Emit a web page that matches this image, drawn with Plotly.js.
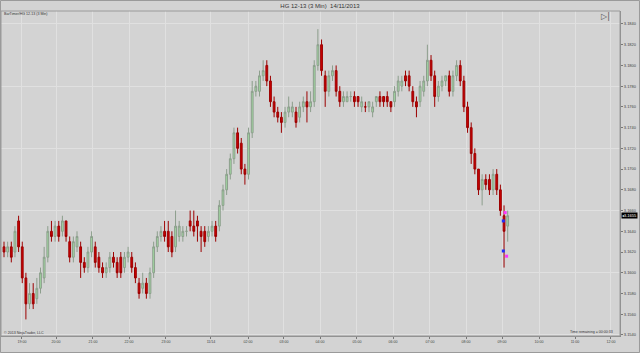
<!DOCTYPE html>
<html>
<head>
<meta charset="utf-8">
<script src="https://cdn.plot.ly/plotly-3.0.1.min.js"></script>
<style>
  html, body { margin: 0; padding: 0; background: #d3d3d3; }
  #chart { width: 640px; height: 353px; }
</style>
</head>
<body>
<div id="chart"></div>
<script>
// ---- Data (HG 12-13, 3 Min bars) ----
const openP = [
 3.1625,3.1620,3.1625,3.1620,3.1650,3.1625,3.1595,3.1570,3.1580,3.1575,
 3.1585,3.1595,3.1615,3.1640,3.1635,3.1645,3.1640,3.1650,3.1630,3.1615,
 3.1625,3.1625,3.1610,3.1605,3.1620,3.1625,3.1615,3.1605,3.1600,3.1605,
 3.1615,3.1610,3.1615,3.1605,3.1615,3.1615,3.1605,3.1590,3.1585,3.1590,
 3.1580,3.1600,3.1625,3.1635,3.1640,3.1640,3.1635,3.1625,3.1635,3.1635,
 3.1640,3.1650,3.1645,3.1650,3.1640,3.1640,3.1635,3.1640,3.1645,3.1645,
 3.1665,3.1680,3.1695,3.1710,3.1735,3.1725,3.1700,3.1695,3.1735,3.1775,
 3.1775,3.1790,3.1800,3.1785,3.1765,3.1755,3.1750,3.1745,3.1755,3.1755,
 3.1755,3.1750,3.1760,3.1765,3.1760,3.1765,3.1800,3.1820,3.1790,3.1775,
 3.1790,3.1795,3.1775,3.1765,3.1765,3.1770,3.1770,3.1770,3.1760,3.1760,
 3.1760,3.1755,3.1765,3.1770,3.1770,3.1770,3.1765,3.1765,3.1775,3.1780,
 3.1790,3.1790,3.1775,3.1765,3.1765,3.1775,3.1785,3.1805,3.1790,3.1770,
 3.1780,3.1785,3.1790,3.1775,3.1790,3.1800,3.1785,3.1760,3.1740,3.1715,
 3.1700,3.1680,3.1690,3.1690,3.1680,3.1695,3.1680,3.1655,3.1645
];
const highP = [
 3.1630,3.1630,3.1630,3.1645,3.1655,3.1630,3.1600,3.1590,3.1590,3.1595,
 3.1605,3.1625,3.1645,3.1650,3.1650,3.1650,3.1655,3.1650,3.1635,3.1635,
 3.1640,3.1630,3.1615,3.1625,3.1640,3.1630,3.1620,3.1610,3.1610,3.1620,
 3.1620,3.1615,3.1620,3.1620,3.1625,3.1620,3.1610,3.1595,3.1600,3.1595,
 3.1605,3.1630,3.1640,3.1645,3.1650,3.1650,3.1640,3.1660,3.1650,3.1645,
 3.1645,3.1660,3.1660,3.1655,3.1645,3.1645,3.1645,3.1650,3.1650,3.1670,
 3.1685,3.1700,3.1715,3.1740,3.1740,3.1730,3.1705,3.1740,3.1785,3.1785,
 3.1795,3.1805,3.1805,3.1790,3.1770,3.1760,3.1755,3.1760,3.1770,3.1765,
 3.1760,3.1765,3.1770,3.1775,3.1775,3.1805,3.1835,3.1825,3.1795,3.1795,
 3.1800,3.1800,3.1780,3.1775,3.1775,3.1775,3.1775,3.1770,3.1770,3.1765,
 3.1765,3.1765,3.1770,3.1775,3.1770,3.1775,3.1765,3.1780,3.1790,3.1790,
 3.1795,3.1795,3.1780,3.1770,3.1785,3.1790,3.1820,3.1810,3.1795,3.1785,
 3.1790,3.1790,3.1795,3.1795,3.1805,3.1805,3.1790,3.1765,3.1745,3.1720,
 3.1700,3.1695,3.1695,3.1695,3.1700,3.1700,3.1685,3.1665,3.1660
];
const lowP = [
 3.1615,3.1615,3.1610,3.1615,3.1620,3.1590,3.1555,3.1565,3.1565,3.1570,
 3.1580,3.1590,3.1610,3.1630,3.1630,3.1630,3.1635,3.1630,3.1610,3.1610,
 3.1620,3.1595,3.1600,3.1600,3.1615,3.1605,3.1600,3.1595,3.1595,3.1600,
 3.1605,3.1595,3.1595,3.1600,3.1610,3.1600,3.1590,3.1575,3.1580,3.1575,
 3.1575,3.1595,3.1620,3.1630,3.1630,3.1620,3.1615,3.1620,3.1630,3.1630,
 3.1635,3.1640,3.1635,3.1630,3.1620,3.1625,3.1630,3.1635,3.1630,3.1640,
 3.1660,3.1675,3.1690,3.1705,3.1715,3.1695,3.1685,3.1690,3.1730,3.1770,
 3.1770,3.1785,3.1780,3.1760,3.1750,3.1745,3.1735,3.1740,3.1750,3.1750,
 3.1740,3.1745,3.1755,3.1745,3.1755,3.1760,3.1795,3.1790,3.1760,3.1770,
 3.1785,3.1770,3.1760,3.1760,3.1765,3.1765,3.1760,3.1760,3.1755,3.1755,
 3.1755,3.1750,3.1760,3.1760,3.1760,3.1760,3.1755,3.1760,3.1770,3.1775,
 3.1780,3.1775,3.1760,3.1750,3.1760,3.1770,3.1780,3.1785,3.1760,3.1765,
 3.1775,3.1780,3.1770,3.1770,3.1785,3.1780,3.1755,3.1735,3.1705,3.1695,
 3.1675,3.1665,3.1680,3.1675,3.1675,3.1675,3.1655,3.1605,3.1630
];
const closeP = [
 3.1620,3.1625,3.1615,3.1640,3.1625,3.1595,3.1570,3.1580,3.1570,3.1585,
 3.1600,3.1615,3.1640,3.1635,3.1645,3.1635,3.1650,3.1635,3.1615,3.1630,
 3.1635,3.1610,3.1605,3.1620,3.1635,3.1610,3.1605,3.1600,3.1605,3.1615,
 3.1610,3.1600,3.1600,3.1615,3.1620,3.1605,3.1595,3.1580,3.1590,3.1580,
 3.1600,3.1625,3.1635,3.1640,3.1635,3.1625,3.1620,3.1645,3.1645,3.1640,
 3.1640,3.1645,3.1640,3.1645,3.1635,3.1630,3.1640,3.1645,3.1635,3.1665,
 3.1680,3.1695,3.1710,3.1735,3.1720,3.1700,3.1695,3.1735,3.1775,3.1780,
 3.1790,3.1795,3.1785,3.1765,3.1755,3.1750,3.1745,3.1755,3.1760,3.1760,
 3.1745,3.1760,3.1765,3.1760,3.1765,3.1800,3.1820,3.1795,3.1775,3.1790,
 3.1795,3.1775,3.1765,3.1770,3.1770,3.1770,3.1765,3.1765,3.1765,3.1760,
 3.1765,3.1760,3.1770,3.1765,3.1765,3.1765,3.1760,3.1775,3.1785,3.1785,
 3.1785,3.1780,3.1765,3.1760,3.1780,3.1785,3.1805,3.1790,3.1770,3.1780,
 3.1785,3.1790,3.1775,3.1790,3.1800,3.1785,3.1760,3.1740,3.1715,3.1700,
 3.1680,3.1690,3.1685,3.1680,3.1695,3.1680,3.1660,3.1640,3.1655
];
// Trade/indicator marks drawn on the last bars
const buyMarkX = [136.8, 136.8];
const buyMarkY = [3.1650, 3.1621];
const sellMarkX = [137.3, 137.7];
const sellMarkY = [3.1658, 3.1616];
// Axis labels
const timeLabels = ['19:00','20:00','21:00','22:00','23:00','11/14','02:00','03:00','04:00',
                    '05:00','06:00','07:00','08:00','09:00','10:00','11:00','12:00'];
const timeLabelBar = [4.93,14.25,24.38,34.25,44.38,56.71,66.85,76.71,86.58,
                      96.71,106.58,116.71,126.58,136.44,146.58,156.44,166.3];

const barIndex = openP.map((_, i) => i);
const lastClose = closeP[closeP.length - 1];

const FONT = 'Liberation Sans, Arial, sans-serif';
const GRID = '#e0e0e0';
const BG = '#d3d3d3';

const traces = [
  {
    type: 'candlestick',
    x: barIndex, open: openP, high: highP, low: lowP, close: closeP,
    whiskerwidth: 0,
    increasing: { line: { color: '#8c9e8c', width: 1 }, fillcolor: '#a2dba2' },
    decreasing: { line: { color: '#9c0000', width: 1 }, fillcolor: '#cc0000' },
    showlegend: false, hoverinfo: 'skip'
  },
  {
    type: 'scatter', mode: 'markers', x: buyMarkX, y: buyMarkY,
    marker: { symbol: 'square', size: 3, color: '#1f2fff' },
    showlegend: false, hoverinfo: 'skip'
  },
  {
    type: 'scatter', mode: 'markers', x: sellMarkX, y: sellMarkY,
    marker: { symbol: 'square', size: 3, color: '#ff33ff' },
    showlegend: false, hoverinfo: 'skip'
  },
  { type: 'scatter', x: [], y: [], yaxis: 'y2', showlegend: false, hoverinfo: 'skip' }
];

const yRange = [3.1539, 3.18525];

const layout = {
  width: 640, height: 353, autosize: false,
  margin: { l: 1, r: 20, t: 11, b: 17, pad: 0 },
  paper_bgcolor: BG, plot_bgcolor: BG,
  font: { family: FONT, color: '#444' },
  showlegend: false,
  title: {
    text: 'HG 12-13 (3 Min)  14/11/2013',
    font: { family: FONT, size: 6, color: '#333' },
    xref: 'container', yref: 'container', x: 0.5, y: 0.984,
    xanchor: 'center', yanchor: 'middle'
  },
  xaxis: {
    range: [-0.822, 168.77],
    tickmode: 'array', tickvals: timeLabelBar, ticktext: timeLabels,
    showgrid: true, gridcolor: GRID, gridwidth: 1,
    ticks: 'outside', ticklen: 2, tickcolor: '#777',
    tickfont: { family: FONT, size: 3.6, color: '#444' },
    showline: true, linecolor: '#8a8a8a', linewidth: 1,
    zeroline: false, rangeslider: { visible: false }, fixedrange: true
  },
  yaxis: {
    side: 'right', range: yRange,
    tickmode: 'linear', tick0: 3.154, dtick: 0.002, tickformat: '.4f',
    showgrid: false,
    ticks: 'outside', ticklen: 2, tickcolor: '#777',
    tickfont: { family: FONT, size: 4, color: '#444' },
    showline: true, linecolor: '#8a8a8a', linewidth: 1,
    zeroline: false, fixedrange: true
  },
  yaxis2: {
    overlaying: 'y', side: 'left', range: yRange,
    tickmode: 'linear', tick0: 3.154, dtick: 0.006,
    showgrid: true, gridcolor: GRID, gridwidth: 1,
    showticklabels: false, ticks: '', showline: false, zeroline: false, fixedrange: true
  },
  shapes: [
    { type: 'rect', xref: 'paper', yref: 'paper', x0: 0, x1: 1, y0: 0, y1: 1,
      line: { color: '#9a9a9a', width: 1 }, layer: 'above' },
    { type: 'rect', xref: 'paper', yref: 'paper', x0: -0.0008, x1: 1.0315, y0: -0.0508, y1: 1.0323,
      line: { color: '#9a9a9a', width: 1 }, layer: 'above' }
  ],
  annotations: [
    { xref: 'paper', yref: 'paper', x: 0.002, y: 0.991, xanchor: 'left', yanchor: 'middle',
      text: 'BarTimer/HG 12-13 (3 Min)', showarrow: false,
      font: { family: FONT, size: 3.6, color: '#333' } },
    { xref: 'paper', yref: 'paper', x: 0.002, y: 0.009, xanchor: 'left', yanchor: 'middle',
      text: '© 2013 NinjaTrader, LLC', showarrow: false,
      font: { family: FONT, size: 3.6, color: '#333' } },
    { xref: 'paper', yref: 'paper', x: 0.992, y: 0.012, xanchor: 'right', yanchor: 'middle',
      text: 'Time remaining = 00:00:33', showarrow: false,
      font: { family: FONT, size: 3.6, color: '#333' } },
    { xref: 'paper', yref: 'paper', x: 0.977, y: 0.984, xanchor: 'center', yanchor: 'middle',
      text: '▷|', showarrow: false,
      font: { family: 'DejaVu Sans, sans-serif', size: 8, color: '#555' } },
    { xref: 'paper', yref: 'y', x: 1, y: lastClose, xanchor: 'left', yanchor: 'middle',
      xshift: 1,
      text: '◂3.1655', showarrow: false, bgcolor: '#000', borderpad: 0,
      font: { family: FONT, size: 4, color: '#fff' } }
  ]
};

Plotly.newPlot('chart', traces, layout, { staticPlot: true, displayModeBar: false });
</script>
</body>
</html>
